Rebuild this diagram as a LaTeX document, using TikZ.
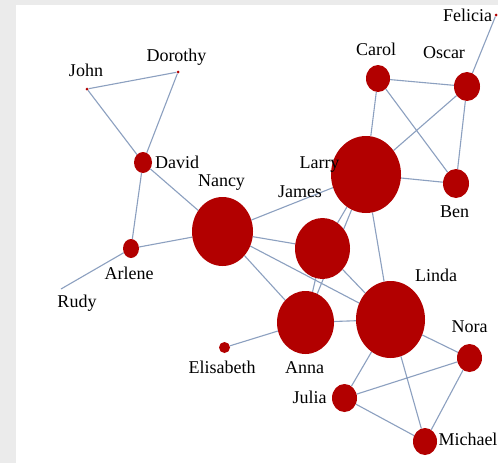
\documentclass[tikz,border=0pt]{standalone}
\usepackage{fontspec}
\setmainfont{Liberation Serif}
\usetikzlibrary{shapes.geometric,backgrounds}
\definecolor{nodered}{RGB}{178,0,0}
\definecolor{linkblue}{RGB}{140,160,192}
\definecolor{framegray}{RGB}{235,235,235}
\begin{document}
\begin{tikzpicture}[x=1pt, y=-1pt,
        person/.style={ellipse, fill=nodered, draw=none, inner sep=0pt},
        nametag/.style={anchor=base, inner sep=0pt, font=\fontsize{18}{20}\selectfont},
        link/.style={draw=linkblue, line width=1.1pt}]
    \useasboundingbox (0,0) rectangle (498,463);

    % people
    \node[person, minimum width=3, minimum height=3] (john) at (87,89) {};
    \node[person, minimum width=3, minimum height=3] (dorothy) at (178,72) {};
    \node[person, minimum width=3, minimum height=3] (felicia) at (496,15) {};
    \node[person, minimum width=18, minimum height=21] (david) at (143,162.5) {};
    \node[person, minimum width=16, minimum height=19] (arlene) at (131,248.5) {};
    \node[person, minimum width=11, minimum height=11] (elisabeth) at (224.5,347.5) {};
    \node[person, minimum width=61, minimum height=69] (nancy) at (222.5,231.5) {};
    \node[person, minimum width=55, minimum height=61] (james) at (322.5,248.5) {};
    \node[person, minimum width=70, minimum height=77] (larry) at (366,174.5) {};
    \node[person, minimum width=57, minimum height=63] (anna) at (305.5,322.5) {};
    \node[person, minimum width=69, minimum height=77] (linda) at (390.5,319.5) {};
    \node[person, minimum width=24, minimum height=27] (carol) at (378,78.5) {};
    \node[person, minimum width=26, minimum height=29] (oscar) at (467,86.5) {};
    \node[person, minimum width=26, minimum height=29] (ben) at (456,183.5) {};
    \node[person, minimum width=25, minimum height=28] (nora) at (469.5,358) {};
    \node[person, minimum width=25, minimum height=28] (julia) at (344.5,398) {};
    \node[person, minimum width=24, minimum height=27] (michael) at (425,441.5) {};
    \coordinate (rudy) at (61,289);

    % names
    \node[nametag] (johnL) at (86,76.5) {John};
    \node[nametag] (dorothyL) at (176.5,61) {Dorothy};
    \node[nametag, anchor=base west] (davidL) at (155,168) {David};
    \node[nametag] (nancyL) at (221.5,186) {Nancy};
    \node[nametag] (arleneL) at (129,279) {Arlene};
    \node[nametag] (rudyL) at (77,307) {Rudy};
    \node[nametag] (elisabethL) at (222,373) {Elisabeth};
    \node[nametag] (annaL) at (304.5,373) {Anna};
    \node[nametag] (jamesL) at (300,197) {James};
    \node[nametag] (larryL) at (319.5,168) {Larry};
    \node[nametag] (lindaL) at (436,281) {Linda};
    \node[nametag] (carolL) at (376,55) {Carol};
    \node[nametag] (oscarL) at (444,58) {Oscar};
    \node[nametag] (feliciaL) at (467.5,21) {Felicia};
    \node[nametag] (benL) at (454.5,217) {Ben};
    \node[nametag] (noraL) at (469.5,332) {Nora};
    \node[nametag] (juliaL) at (309.5,403) {Julia};
    \node[nametag] (michaelL) at (468,445) {Michael};

    \begin{scope}[on background layer]
        \fill[framegray] (0,0) rectangle (498,463);
        \fill[white] (16,5) rectangle (498,463);
        \draw[link]
            (john) -- (dorothy)
            (john) -- (david)
            (dorothy) -- (david)
            (david) -- (nancy)
            (david) -- (arlene)
            (arlene) -- (nancy)
            (arlene) -- (rudy)
            (nancy) -- (larry)
            (nancy) -- (james)
            (nancy) -- (linda)
            (nancy) -- (anna)
            (james) -- (larry)
            (james) -- (anna)
            (james) -- (linda)
            (anna) -- (larry)
            (anna) -- (linda)
            (anna) -- (elisabeth)
            (larry) -- (linda)
            (larry) -- (carol)
            (larry) -- (oscar)
            (larry) -- (ben)
            (carol) -- (oscar)
            (carol) -- (ben)
            (oscar) -- (ben)
            (oscar) -- (felicia)
            (linda) -- (nora)
            (linda) -- (julia)
            (linda) -- (michael)
            (julia) -- (nora)
            (julia) -- (michael)
            (nora) -- (michael)
        ;
    \end{scope}
\end{tikzpicture}
\end{document}
